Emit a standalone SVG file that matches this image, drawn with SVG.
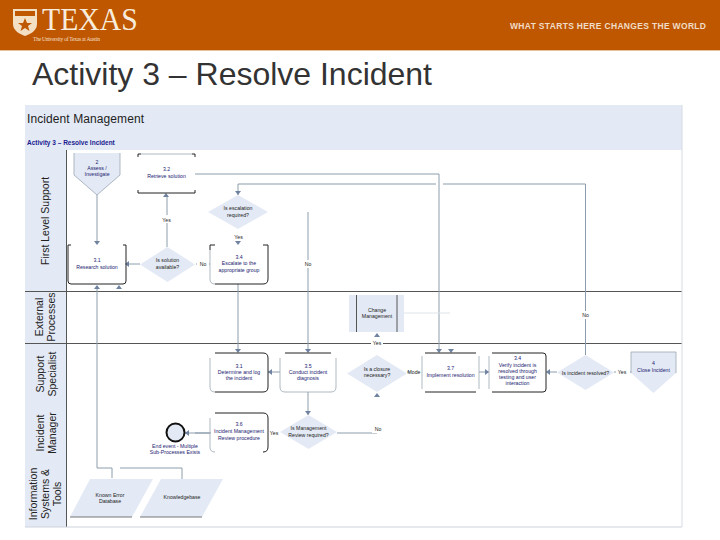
<svg xmlns="http://www.w3.org/2000/svg" width="720" height="540" viewBox="0 0 720 540">
<style>
text{font-family:"Liberation Sans",Arial,sans-serif}
.shape{fill:#e4eaf5}
.box{fill:#fff}
.corner{fill:none;stroke:#222;stroke-width:1}
.side{fill:none;stroke:#9aa7b3;stroke-width:.8}
.base{fill:none;stroke:#555;stroke-width:.8}
.t{font-size:5.2px;fill:#1a1a70;text-anchor:middle}
.k{font-size:5.2px;fill:#222;text-anchor:middle}
.lane{font-size:10.5px;fill:#222;text-anchor:middle}
.c{fill:none;stroke:#8c9cac;stroke-width:1}
.p{fill:none;stroke:#dfe4e8;stroke-width:1}
.d{fill:none;stroke:#555;stroke-width:1}
.a{fill:#6f83a0}
</style>
<defs>
<path id="ad" class="a" d="M-3-4H3L0 0Z"/>
<path id="au" class="a" d="M-3 4H3L0 0Z"/>
<path id="ar" class="a" d="M-4-3V3L0 0Z"/>
<path id="al" class="a" d="M4-3V3L0 0Z"/>
</defs>
<g id="banner">
<rect width="720" height="50" fill="#bf5700"/>
<rect y="50" width="720" height="1" fill="#e6c29c"/>
<path d="M13 9H37V24C37 31 30 34 25 36C20 34 13 31 13 24Z" fill="#f3dfc4"/>
<path d="M15 11H35V16H15ZM25 18L27 23H32L28 26L29.500 31L25 28L20.500 31L22 26L18 23H23Z" fill="#bf5700"/>
<text x="42" y="30" font-size="32" textLength="58" lengthAdjust="spacingAndGlyphs" style="font-family:'Liberation Serif',serif" fill="#f8ecdc" transform="scale(1.65 1) translate(-16.500 0)">TEXAS</text>
<text x="33" y="41" font-size="5.600" textLength="67" style="font-family:'Liberation Serif',serif" fill="#f3dfc4">The University of Texas at Austin</text>
<text x="510" y="29" font-size="8.500" font-weight="bold" textLength="196" fill="#f0dcc8">WHAT STARTS HERE CHANGES THE WORLD</text>
</g>
<text id="title" x="32" y="85" font-size="32" textLength="400" fill="#333">Activity 3 – Resolve Incident</text>
<g id="panel">
<rect x="25" y="105" width="657" height="422" fill="#fff"/>
<rect x="25" y="105" width="657" height="45" class="shape"/>
<rect x="25" y="150" width="41" height="377" class="shape"/>
<text x="27" y="123" font-size="12" textLength="117" fill="#222">Incident Management</text>
<text x="27" y="145" font-size="6.500" font-weight="bold" fill="#1a1a90">Activity 3 – Resolve Incident</text>
<path class="d" d="M66.500 150V527M25 291.500H682M25 343.500H682"/>
<path d="M25 527H682" stroke="#ccd2da" fill="none"/>
<path d="M682 105V527" stroke="#d5dae2" fill="none"/>
<text class="lane" transform="translate(49 221) rotate(-90)">First Level Support</text>
<text class="lane" transform="translate(43 317) rotate(-90)">External</text>
<text class="lane" transform="translate(55 317) rotate(-90)">Processes</text>
<text class="lane" transform="translate(44 374) rotate(-90)">Support</text>
<text class="lane" transform="translate(56 374) rotate(-90)">Specialist</text>
<text class="lane" transform="translate(44 433) rotate(-90)">Incident</text>
<text class="lane" transform="translate(56 433) rotate(-90)">Manager</text>
<text class="lane" transform="translate(37 494) rotate(-90)">Information</text>
<text class="lane" transform="translate(49 494) rotate(-90)">Systems &amp;</text>
<text class="lane" transform="translate(61 494) rotate(-90)">Tools</text>
</g>
<g id="connectors">
<path class="c" d="M97 195V243M97 286V468H112V478M120 468H182V479M195 174H439V351M238 195V184H436M443 184H585.500V355M167 247V195M238 284V352M308 212V352M308 392V415M210 264H196M140 264H128M268 372H280M210 433H195M211 433H185M407 372H420M479 372H489M557 372H548M614 372H631M337 433H377"/>
<path class="p" d="M404 313H450"/>
<use href="#ad" x="97" y="245"/>
<use href="#au" x="97" y="285"/>
<use href="#au" x="119" y="285"/>
<use href="#au" x="166" y="193"/>
<use href="#ad" x="238" y="195"/>
<use href="#ad" x="238" y="245"/>
<use href="#ad" x="238" y="353"/>
<use href="#ad" x="308" y="353"/>
<use href="#ad" x="308" y="415"/>
<use href="#au" x="377" y="393"/>
<use href="#au" x="377" y="333"/>
<use href="#ad" x="439" y="353"/>
<use href="#ad" x="451" y="353"/>
<use href="#al" x="125" y="264"/>
<use href="#al" x="268" y="372"/>
<use href="#ar" x="489" y="372"/>
<use href="#al" x="546" y="372"/>
<use href="#al" x="185" y="433"/>
</g>
<g id="connector-labels">
<rect x="160" y="215" width="13" height="8" fill="#fff"/>
<text class="k" x="166.500" y="221.500">Yes</text>
<rect x="233" y="233" width="12" height="8" fill="#fff"/>
<text class="k" x="238.500" y="239">Yes</text>
<rect x="197" y="260" width="12" height="8" fill="#fff"/>
<text class="k" x="203" y="266">No</text>
<rect x="302" y="260" width="12" height="8" fill="#fff"/>
<text class="k" x="308" y="266">No</text>
<rect x="580" y="311" width="12" height="8" fill="#fff"/>
<text class="k" x="585.500" y="317">No</text>
<rect x="371" y="339" width="12" height="8" fill="#fff"/>
<text class="k" x="377" y="345">Yes</text>
<rect x="410" y="368" width="10" height="8" fill="#fff"/>
<text class="k" x="414" y="374">Mode</text>
<rect x="616" y="368" width="14" height="8" fill="#fff"/>
<text class="k" x="622" y="374">Yes</text>
<rect x="269" y="429" width="11" height="8" fill="#fff"/>
<text class="k" x="274" y="435">Yes</text>
<rect x="372" y="425" width="12" height="8" fill="#fff"/>
<text class="k" x="378" y="431">No</text>
</g>
<g id="n2"><path class="shape" d="M74 153H120V175L97 195L74 175Z"/><path class="side" d="M74 153V175L97 195L120 175V153"/><text class="t" x="97" y="164">2</text><text class="t" x="97" y="170">Assess /</text><text class="t" x="97" y="176">Investigate</text></g>
<g id="n32"><path class="corner" d="M138 157V154H141M192 154H195V157M138 190V193H195V190"/><path class="side" d="M141 154H192"/><text class="t" x="166.500" y="171">3.2</text><text class="t" x="166.500" y="178">Retrieve solution</text></g>
<g id="n31a"><path class="corner" d="M71 245H68V281Q68 284 71 284H123Q126 284 126 281V245H123"/><text class="t" x="97" y="262">3.1</text><text class="t" x="97" y="269">Research solution</text></g>
<g id="d1"><path class="shape" d="M167.500 247L195 264.500L167.500 282L140 264.500Z"/><text class="k" x="167.500" y="262">Is solution</text><text class="k" x="167.500" y="269">available?</text></g>
<g id="d2"><path class="shape" d="M238 195L268 212L238 229L208 212Z"/><text class="k" x="238" y="210">Is escalation</text><text class="k" x="238" y="217">required?</text></g>
<g id="n34"><path class="side" d="M210 250V279Q210 284 215 284"/><path class="corner" d="M215 245H210V250M263 245H268V279Q268 284 263 284H215"/><text class="t" x="239" y="259">3.4</text><text class="t" x="239" y="265">Escalate to the</text><text class="t" x="239" y="272">appropriate group</text></g>
<g id="nchange"><rect class="shape" x="349" y="295" width="55" height="37"/><path d="M356.500 295V332M397 295V332" stroke="#555" fill="none"/><text class="k" x="377" y="312">Change</text><text class="k" x="377" y="318">Management</text></g>
<g id="n33"><path class="side" d="M210 358V387Q210 392 215 392"/><path class="corner" d="M215 353H263Q268 353 268 358V387Q268 392 263 392H215"/><text class="t" x="239" y="368">3.1</text><text class="t" x="239" y="374">Determine and log</text><text class="t" x="239" y="380">the incident</text></g>
<g id="n35"><path class="side" d="M280 358V387Q280 392 285 392H331Q336 392 336 387V358"/><path class="corner" d="M285 353H331"/><text class="t" x="308" y="368">3.5</text><text class="t" x="308" y="374">Conduct incident</text><text class="t" x="308" y="380">diagnosis</text></g>
<g id="d3"><path class="shape" d="M377 355L407 373.500L377 392L347 373.500Z"/><text class="k" x="377" y="371">Is a closure</text><text class="k" x="377" y="377">necessary?</text></g>
<g id="n37"><path class="corner" d="M425 353H476M425 392H476"/><path class="side" d="M422 356V389M479 356V389"/><text class="t" x="450.500" y="370">3.7</text><text class="t" x="450.500" y="377">Implement resolution</text></g>
<g id="n38"><path class="corner" d="M492 353H543Q546 353 546 356V389Q546 392 543 392H492"/><path class="side" d="M489 356V389"/><text class="t" x="517.500" y="360">3.4</text><text class="t" x="517.500" y="367">Verify incident is</text><text class="t" x="517.500" y="373">resolved through</text><text class="t" x="517.500" y="379">testing and user</text><text class="t" x="517.500" y="385">interaction</text></g>
<g id="d4"><path class="shape" d="M585.500 355L614 372.500L585.500 390L557 372.500Z"/><text class="k" x="585.500" y="374.500">Is incident resolved?</text></g>
<g id="n4"><path class="shape" d="M631 352H676V373L653.500 393L631 373Z"/><path class="side" d="M631 373V352H676V373"/><text class="t" x="653.500" y="365">4</text><text class="t" x="653.500" y="372">Close Incident</text></g>
<g id="n36"><path class="side" d="M210 418V447Q210 452 215 452"/><path class="corner" d="M215 413H263Q268 413 268 418V447Q268 452 263 452"/><text class="t" x="239" y="426">3.6</text><text class="t" x="239" y="433">Incident Management</text><text class="t" x="239" y="440">Review procedure</text></g>
<g id="d5"><path class="shape" d="M308.500 415L337 432L308.500 449L280 432Z"/><text class="k" x="308.500" y="430">Is Management</text><text class="k" x="308.500" y="437">Review required?</text></g>
<g id="end"><circle cx="175.500" cy="432.500" r="9" fill="#e4eaf5" stroke="#111" stroke-width="2"/><text class="t" x="175" y="448">End event - Multiple</text><text class="t" x="175" y="454">Sub-Processes Exists</text></g>
<g id="sys1"><path class="shape" d="M90 479H153L132 517H70Z"/><path class="base" d="M70 517H132"/><text class="k" x="110" y="497">Known Error</text><text class="k" x="110" y="503">Database</text></g>
<g id="sys2"><path class="shape" d="M161 479H223L202 517H140Z"/><path class="base" d="M140 517H202"/><text class="k" x="182" y="499">Knowledgebase</text></g>
</svg>
